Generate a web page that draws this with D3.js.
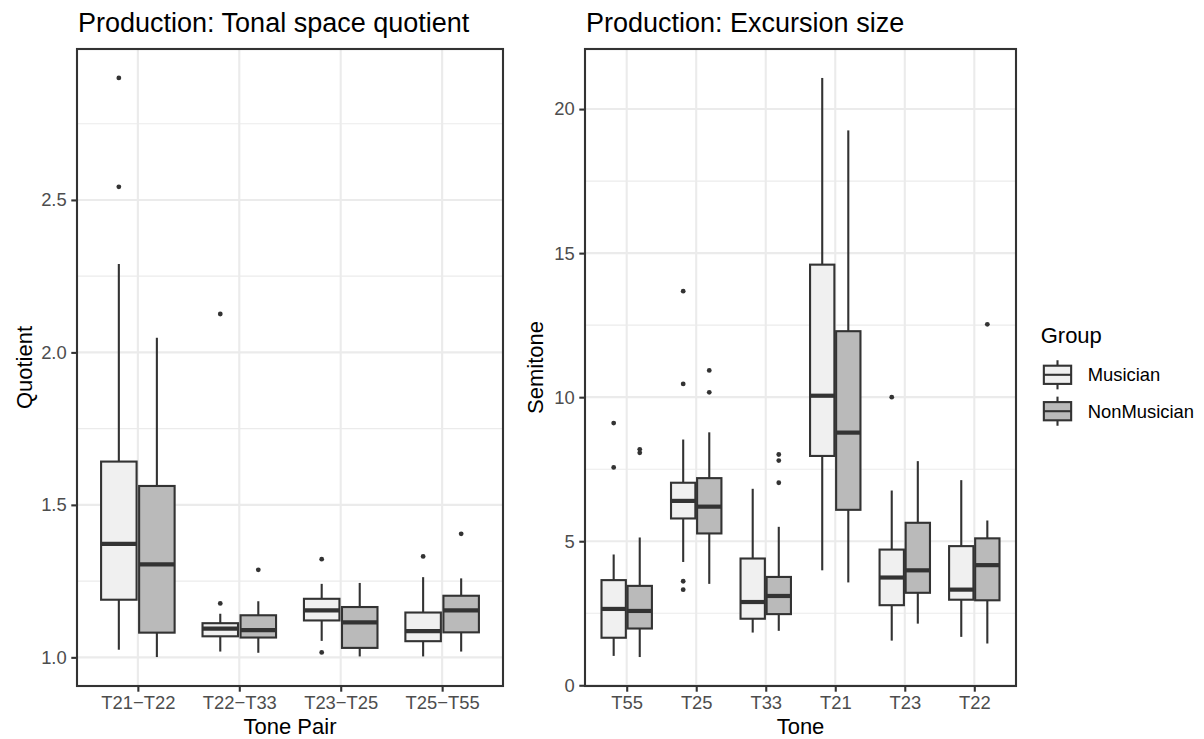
<!DOCTYPE html>
<html>
<head>
<meta charset="utf-8">
<script src="https://cdn.jsdelivr.net/npm/d3@7"></script>
<style>
body { margin: 0; background: #fff; }
svg text { font-family: 'Liberation Sans', Arial, Helvetica, sans-serif; }
</style>
</head>
<body>
<div class="canvas"></div>
<script>
// Groups
const groups = ['Musician', 'NonMusician'];

// Left panel: tone pairs, boxes as [lower whisker, Q1, median, Q3, upper whisker]
const pairs = ['T21−T22', 'T22−T33', 'T23−T25', 'T25−T55'];
const quotientMusician = [
    [1.025, 1.189, 1.372, 1.642, 2.290],
    [1.019, 1.069, 1.094, 1.112, 1.143],
    [1.054, 1.121, 1.154, 1.192, 1.241],
    [1.003, 1.053, 1.086, 1.147, 1.263]
];
const quotientNonMusician = [
    [1.001, 1.081, 1.305, 1.562, 2.048],
    [1.015, 1.065, 1.089, 1.138, 1.184],
    [1.003, 1.031, 1.115, 1.165, 1.244],
    [1.019, 1.082, 1.154, 1.202, 1.259]
];
const quotientMusicianOut = [[2.900, 2.543], [2.126, 1.177], [1.322, 1.016], [1.331]];
const quotientNonMusicianOut = [[], [1.287], [], [1.405]];
const quotientTicks = [1.0, 1.5, 2.0, 2.5];

// Right panel: tones
const tones = ['T55', 'T25', 'T33', 'T21', 'T23', 'T22'];
const semitoneMusician = [
    [1.02, 1.65, 2.65, 3.65, 4.54],
    [4.28, 5.79, 6.40, 7.03, 8.53],
    [1.83, 2.31, 2.89, 4.40, 6.82],
    [3.99, 7.96, 10.05, 14.60, 21.08],
    [1.55, 2.78, 3.74, 4.71, 6.76],
    [1.68, 2.97, 3.32, 4.83, 7.12]
];
const semitoneNonMusician = [
    [0.98, 1.97, 2.58, 3.45, 5.13],
    [3.52, 5.27, 6.20, 7.19, 8.78],
    [1.89, 2.47, 3.10, 3.76, 5.50],
    [3.57, 6.09, 8.77, 12.29, 19.26],
    [2.14, 3.21, 3.99, 5.64, 7.78],
    [1.45, 2.95, 4.17, 5.10, 5.72]
];
const semitoneMusicianOut = [[9.10, 7.56], [13.68, 10.46, 3.61, 3.32], [], [], [10.0], []];
const semitoneNonMusicianOut = [[8.19, 8.07], [10.93, 10.17], [8.01, 7.80, 7.03], [], [], [12.53]];
const semitoneTicks = [0, 5, 10, 15, 20];

// Styles
const fills = {Musician: '#f0f0f0', NonMusician: '#bababa'};
const ink = '#333333';
const gridColor = '#ebebeb';
const lineW = 2.1;

const svg = d3.select('.canvas')
    .append('svg')
        .attr('width', 1204)
        .attr('height', 739)
        .style('background', '#fff')

const plotTop = 49, plotBottom = 686;

function drawPanel(o) {
    const g = svg.append('g');

    const x = d3.scalePoint()
        .domain(o.cats)
        .range([o.left, o.right])
        .padding(0.6);
    const step = x.step();

    const all = [o.m, o.n, o.mOut, o.nOut].flat(2);
    const [lo, hi] = d3.extent(all);
    const pad = (hi - lo) * 0.05;
    const y = d3.scaleLinear()
        .domain([lo - pad, hi + pad])
        .range([plotBottom, plotTop]);

    // minor grid at midpoints between the major ticks
    const d = o.ticks[1] - o.ticks[0];
    const minor = [o.ticks[0] - d / 2, ...o.ticks.map(t => t + d / 2)]
        .filter(v => v > y.domain()[0] && v < y.domain()[1]);

    g.selectAll('.minor').data(minor).enter().append('line')
        .attr('x1', o.left).attr('x2', o.right)
        .attr('y1', v => y(v)).attr('y2', v => y(v))
        .attr('stroke', gridColor).attr('stroke-width', 1.1)

    g.selectAll('.hmajor').data(o.ticks).enter().append('line')
        .attr('x1', o.left).attr('x2', o.right)
        .attr('y1', v => y(v)).attr('y2', v => y(v))
        .attr('stroke', gridColor).attr('stroke-width', lineW)

    g.selectAll('.vmajor').data(o.cats).enter().append('line')
        .attr('x1', c => x(c)).attr('x2', c => x(c))
        .attr('y1', plotTop).attr('y2', plotBottom)
        .attr('stroke', gridColor).attr('stroke-width', lineW)

    // boxes
    const series = [
        {group: 'Musician', stats: o.m, out: o.mOut, off: -0.1875},
        {group: 'NonMusician', stats: o.n, out: o.nOut, off: 0.1875}
    ];
    const bw = 0.35 * step;

    series.forEach(s => {
        const boxes = g.append('g').selectAll('g')
            .data(o.cats.map((c, i) => ({c, st: s.stats[i], out: s.out[i]})))
            .enter().append('g');

        const cx = b => x(b.c) + s.off * step;

        boxes.append('line')
            .attr('x1', cx).attr('x2', cx)
            .attr('y1', b => y(b.st[0])).attr('y2', b => y(b.st[1]))
            .attr('stroke', ink).attr('stroke-width', lineW)
        boxes.append('line')
            .attr('x1', cx).attr('x2', cx)
            .attr('y1', b => y(b.st[3])).attr('y2', b => y(b.st[4]))
            .attr('stroke', ink).attr('stroke-width', lineW)
        boxes.append('rect')
            .attr('x', b => cx(b) - bw / 2)
            .attr('width', bw)
            .attr('y', b => y(b.st[3]))
            .attr('height', b => y(b.st[1]) - y(b.st[3]))
            .attr('fill', fills[s.group])
            .attr('stroke', ink).attr('stroke-width', lineW)
        boxes.append('line')
            .attr('x1', b => cx(b) - bw / 2).attr('x2', b => cx(b) + bw / 2)
            .attr('y1', b => y(b.st[2])).attr('y2', b => y(b.st[2]))
            .attr('stroke', ink).attr('stroke-width', 4.2)
        boxes.selectAll('circle')
            .data(b => b.out.map(v => ({c: b.c, v})))
            .enter().append('circle')
                .attr('cx', p => x(p.c) + s.off * step)
                .attr('cy', p => y(p.v))
                .attr('r', 2.4)
                .attr('fill', ink)
    });

    // border
    g.append('rect')
        .attr('x', o.left).attr('y', plotTop)
        .attr('width', o.right - o.left).attr('height', plotBottom - plotTop)
        .attr('fill', 'none').attr('stroke', ink).attr('stroke-width', lineW)

    // axes
    const yAxis = g.append('g')
        .attr('transform', `translate(${o.left},0)`)
        .call(d3.axisLeft(y).tickValues(o.ticks).tickFormat(o.fmt).tickSize(5.7).tickPadding(4.6));
    const xAxis = g.append('g')
        .attr('transform', `translate(0,${plotBottom})`)
        .call(d3.axisBottom(x).tickSize(5.7).tickPadding(4.6));
    [yAxis, xAxis].forEach(a => {
        a.select('.domain').remove();
        a.selectAll('.tick line').attr('stroke', ink).attr('stroke-width', lineW);
        a.selectAll('.tick text')
            .attr('fill', '#4d4d4d')
            .style('font-size', '18.4px');
    });

    // titles
    g.append('text')
        .attr('x', o.left + 1).attr('y', 32)
        .style('font-size', '27px')
        .text(o.title)
    g.append('text')
        .attr('x', (o.left + o.right) / 2).attr('y', 734)
        .attr('text-anchor', 'middle')
        .style('font-size', '22px')
        .text(o.xTitle)
    g.append('text')
        .attr('transform', `translate(${o.yTitleX},${(plotTop + plotBottom) / 2}) rotate(-90)`)
        .attr('text-anchor', 'middle')
        .style('font-size', '22px')
        .text(o.yTitle)
}

drawPanel({
    cats: pairs, m: quotientMusician, n: quotientNonMusician,
    mOut: quotientMusicianOut, nOut: quotientNonMusicianOut,
    ticks: quotientTicks, fmt: d3.format('.1f'),
    left: 77, right: 503,
    title: 'Production: Tonal space quotient', xTitle: 'Tone Pair', yTitle: 'Quotient', yTitleX: 31.5
});

drawPanel({
    cats: tones, m: semitoneMusician, n: semitoneNonMusician,
    mOut: semitoneMusicianOut, nOut: semitoneNonMusicianOut,
    ticks: semitoneTicks, fmt: d3.format('d'),
    left: 585, right: 1016,
    title: 'Production: Excursion size', xTitle: 'Tone', yTitle: 'Semitone', yTitleX: 543
});

// legend
const legend = svg.append('g');
legend.append('text')
    .attr('x', 1040.7).attr('y', 343.3)
    .style('font-size', '22px')
    .text('Group')

const key = 36.4;
const keyY = d3.scalePoint().domain(groups).range([374.8, 374.8 + key]);
const keyX = 1057.5;

const keys = legend.selectAll('.key').data(groups).enter().append('g');
keys.append('line')
    .attr('x1', keyX).attr('x2', keyX)
    .attr('y1', gname => keyY(gname) - 0.4 * key).attr('y2', gname => keyY(gname) + 0.4 * key)
    .attr('stroke', ink).attr('stroke-width', lineW)
keys.append('rect')
    .attr('x', keyX - 0.375 * key).attr('width', 0.75 * key)
    .attr('y', gname => keyY(gname) - 0.25 * key).attr('height', 0.5 * key)
    .attr('fill', gname => fills[gname])
    .attr('stroke', ink).attr('stroke-width', lineW)
keys.append('line')
    .attr('x1', keyX - 0.375 * key).attr('x2', keyX + 0.375 * key)
    .attr('y1', gname => keyY(gname)).attr('y2', gname => keyY(gname))
    .attr('stroke', ink).attr('stroke-width', lineW)
keys.append('text')
    .attr('x', 1087.7)
    .attr('y', gname => keyY(gname))
    .attr('dy', '0.35em')
    .style('font-size', '18.4px')
    .text(gname => gname)
</script>
</body>
</html>
